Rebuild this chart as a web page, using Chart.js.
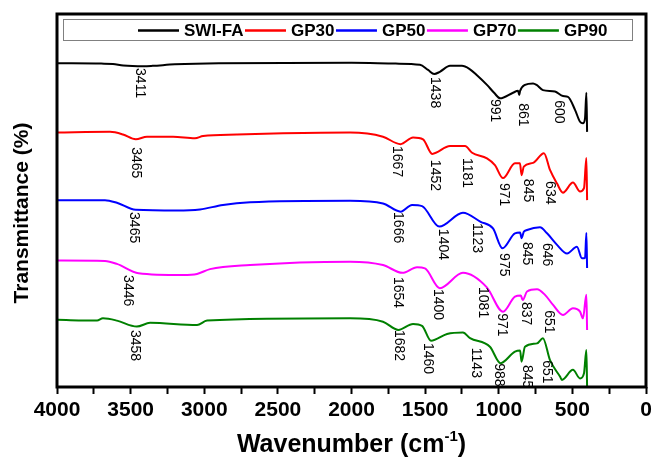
<!DOCTYPE html>
<html><head><meta charset="utf-8">
<script src="https://cdn.jsdelivr.net/npm/chart.js@4"></script>
<style>html,body{margin:0;padding:0;background:#fff}</style>
</head><body>
<canvas id="c" width="654" height="462"></canvas>
<script>
const seriesNames = ['SWI-FA', 'GP30', 'GP50', 'GP70', 'GP90'];
const seriesColors = ['#000000', '#ff0000', '#0000ff', '#ff00ff', '#008000'];

const swiFA_wn = [4000,3700,3620,3550,3411,3350,3200,2900,2000,1700,1535,1480,1438,1400,1331,1250,1200,1148,1080,1030,991,903,869,861,855,822,767,743,700,618,564,530,482,448,428,414,405,400];
const swiFA_T  = [86.8,86.7,86.6,86.2,86.0,86.1,86.5,86.8,86.9,86.7,86.4,85.0,83.9,84.5,86.1,86.1,85.3,83.6,81.0,78.8,77.4,78.9,79.4,78.3,79.4,81.0,81.4,81.0,79.6,79.2,78.0,77.8,74.3,71.1,70.7,72.1,78.9,68.4];

const gp30_wn = [4000,3640,3552,3465,3389,3212,3063,3008,2778,2465,2010,1786,1667,1582,1514,1452,1331,1229,1181,1080,1026,971,890,856,845,830,767,693,652,605,564,496,448,421,405,400];
const gp30_T  = [68.2,68.4,67.7,66.4,67.1,67.1,66.7,67.3,67.7,68.0,68.2,67.1,65.1,66.9,66.4,62.5,64.6,64.6,62.8,61.3,59.5,56.0,60.0,60.0,56.8,59.1,60.1,62.7,58.2,54.6,52.1,54.8,52.4,53.3,61.4,50.1];

const gp50_wn = [4000,3674,3593,3465,3185,3029,2873,2689,2010,1786,1666,1589,1521,1404,1243,1123,1039,975,890,855,845,830,808,720,672,604,536,469,435,414,405,400];
const gp50_T  = [50.1,50.1,49.4,47.5,47.3,47.6,48.8,49.5,49.9,49.2,47.0,48.8,48.5,43.0,46.7,44.3,42.5,37.2,41.2,41.4,39.9,41.6,42.1,42.8,41.2,38.1,35.8,37.6,34.5,34.6,41.3,31.9];

const gp70_wn = [4000,3674,3593,3446,3144,3049,2961,2689,2010,1786,1654,1555,1501,1400,1243,1081,971,890,850,837,808,740,686,631,564,496,448,428,405,400];
const gp70_T  = [33.9,33.8,33.0,30.5,30.0,30.3,31.6,32.7,33.6,32.7,30.6,32.1,31.8,26.5,30.6,26.7,20.2,24.2,24.5,23.3,25.6,26.2,24.7,22.0,19.3,21.1,20.2,18.4,24.7,15.3];

const gp90_wn = [4000,3728,3688,3593,3458,3368,3049,2981,2010,1786,1682,1582,1521,1460,1351,1243,1195,1060,988,890,855,845,822,740,700,652,584,571,496,448,421,405,400];
const gp90_T  = [18.0,17.8,18.4,17.8,16.2,17.2,16.6,17.8,18.4,17.5,15.3,16.9,16.4,12.4,14.2,14.6,13.1,10.8,6.4,9.5,9.8,6.8,10.8,11.7,13.1,7.2,2.8,1.9,4.6,2.3,3.7,9.9,0.0];

const xTickValues = [4000,3500,3000,2500,2000,1500,1000,500,0];

// Peak annotations: text, anchor wavenumber (where the text sits), top of text (transmittance units)
const peakText = [
  ['3411','1438','991','861','600'],
  ['3465','1667','1452','1181','971','845','634'],
  ['3465','1666','1404','1123','975','845','646'],
  ['3446','1654','1400','1081','971','837','651'],
  ['3458','1682','1460','1143','988','845','651']
];
const peakAnchorWn = [
  [3436,1433,1025,835,591],
  [3463,1691,1433,1216,964,801,652],
  [3477,1684,1379,1148,964,808,672],
  [3518,1684,1413,1107,978,815,659],
  [3470,1677,1481,1154,998,808,672]
];
const peakTopT = [
  [85.5,83.1,77.2,76.1,76.9],
  [64.3,64.6,60.9,61.4,54.7,55.8,55.2],
  [46.9,46.9,42.4,44.0,35.9,38.9,38.6],
  [30.0,29.5,26.3,26.8,19.8,22.8,20.6],
  [15.3,15.3,11.8,10.5,6.4,5.9,7.2]
];

const allWn = [swiFA_wn, gp30_wn, gp50_wn, gp70_wn, gp90_wn];
const allT = [swiFA_T, gp30_T, gp50_T, gp70_T, gp90_T];

const FONT = "Arial, 'Liberation Sans', sans-serif";

const datasets = seriesNames.map((name, i) => ({
  label: name,
  data: allWn[i].map((w, j) => ({x: w, y: allT[i][j]})),
  borderColor: seriesColors[i],
  backgroundColor: seriesColors[i],
  borderWidth: 2,
  pointRadius: 0,
  tension: 0,
  cubicInterpolationMode: 'monotone',
  fill: false
}));

const decorPlugin = {
  id: 'decor',
  afterDatasetsDraw(chart) {
    const {ctx, scales: {x, y}} = chart;
    ctx.save();
    ctx.fillStyle = '#000';
    ctx.font = '14px ' + FONT;
    ctx.textAlign = 'left';
    ctx.textBaseline = 'middle';
    peakText.forEach((arr, i) => {
      arr.forEach((t, j) => {
        const px = x.getPixelForValue(peakAnchorWn[i][j]);
        const py = y.getPixelForValue(peakTopT[i][j]);
        ctx.save();
        ctx.translate(px, py);
        ctx.rotate(Math.PI / 2);
        ctx.fillText(t, 0, 0);
        ctx.restore();
      });
    });
    ctx.restore();
  },
  afterDraw(chart) {
    const {ctx, chartArea: a} = chart;
    ctx.save();
    // frame
    ctx.strokeStyle = '#000';
    ctx.lineWidth = 3;
    ctx.strokeRect(a.left, a.top, a.right - a.left, a.bottom - a.top);
    // legend box
    ctx.strokeStyle = '#808080';
    ctx.lineWidth = 1;
    ctx.strokeRect(63.5, 19.5, 569, 21);
    ctx.font = 'bold 17px ' + FONT;
    ctx.textBaseline = 'middle';
    ctx.textAlign = 'left';
    let lx = 138;
    const ly = 30.5;
    seriesNames.forEach((n, i) => {
      ctx.strokeStyle = seriesColors[i];
      ctx.lineWidth = 2.5;
      ctx.beginPath();
      ctx.moveTo(lx, ly);
      ctx.lineTo(lx + 41, ly);
      ctx.stroke();
      lx += 46;
      ctx.fillStyle = '#000';
      ctx.fillText(n, lx, ly + 1);
      lx += ctx.measureText(n).width + 1.5;
    });
    // y title
    ctx.save();
    ctx.translate(22, 213);
    ctx.rotate(-Math.PI / 2);
    ctx.font = 'bold 21px ' + FONT;
    ctx.textAlign = 'center';
    ctx.textBaseline = 'middle';
    ctx.fillStyle = '#000';
    ctx.fillText('Transmittance (%)', 0, 0);
    ctx.restore();
    // x title with superscript
    const main = 'Wavenumber (cm', sup = '-1', end = ')';
    ctx.fillStyle = '#000';
    ctx.textAlign = 'left';
    ctx.textBaseline = 'alphabetic';
    ctx.font = 'bold 25px ' + FONT;
    const w1 = ctx.measureText(main).width, w3 = ctx.measureText(end).width;
    ctx.font = 'bold 15px ' + FONT;
    const w2 = ctx.measureText(sup).width;
    const cx = (a.left + a.right) / 2;
    let sx = cx - (w1 + w2 + w3) / 2;
    const by = 452;
    ctx.font = 'bold 25px ' + FONT;
    ctx.fillText(main, sx, by);
    ctx.font = 'bold 15px ' + FONT;
    ctx.fillText(sup, sx + w1, by - 11);
    ctx.font = 'bold 25px ' + FONT;
    ctx.fillText(end, sx + w1 + w2, by);
    ctx.restore();
  }
};

new Chart(document.getElementById('c'), {
  type: 'line',
  data: {datasets},
  options: {
    responsive: false,
    animation: false,
    devicePixelRatio: 1,
    layout: {padding: {left: 57, right: 8, top: 14, bottom: 0}},
    plugins: {legend: {display: false}, tooltip: {enabled: false}},
    scales: {
      x: {
        type: 'linear',
        reverse: true,
        min: 0,
        max: 4000,
        afterBuildTicks: (s) => {
          const t = [];
          for (let v = 0; v <= 4000; v += 250) t.push({value: v});
          s.ticks = t;
        },
        afterFit: (s) => { s.height = 75; s.paddingLeft = 0; s.paddingRight = 0; },
        grid: {display: true, drawOnChartArea: false, drawTicks: true, tickLength: 7, tickWidth: 2, tickColor: '#000'},
        border: {display: false},
        ticks: {
          autoSkip: false,
          maxRotation: 0,
          padding: 4,
          color: '#000',
          font: {family: FONT, size: 21, weight: 'bold'},
          callback: (v) => xTickValues.includes(v) ? String(v) : ''
        }
      },
      y: {
        display: false,
        min: 0,
        max: 100
      }
    }
  },
  plugins: [decorPlugin]
});
</script>
</body></html>
